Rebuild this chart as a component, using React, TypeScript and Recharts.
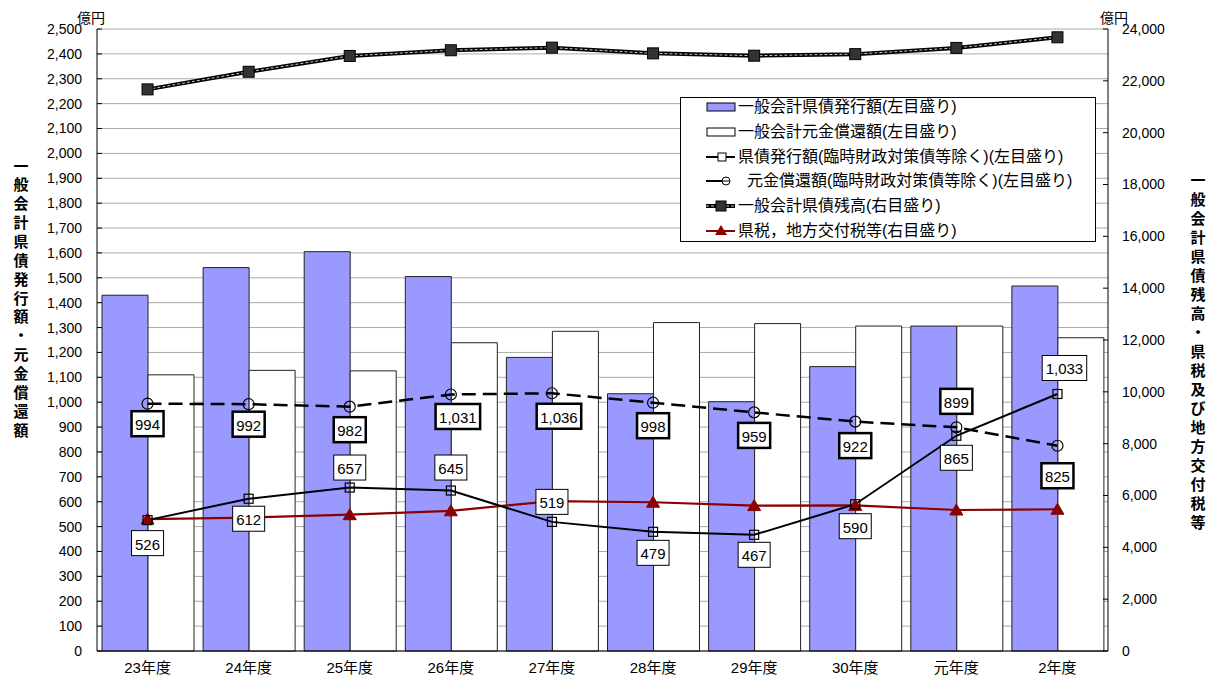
import React from 'react'
import { ComposedChart, Bar, Line, XAxis, YAxis, CartesianGrid, LabelList } from 'recharts'

const categories = ['23年度', '24年度', '25年度', '26年度', '27年度', '28年度', '29年度', '30年度', '元年度', '2年度']
const issuance = [1430, 1541, 1605, 1505, 1180, 1034, 1002, 1143, 1306, 1467]
const repayment = [1110, 1128, 1126, 1239, 1285, 1320, 1316, 1306, 1306, 1259]
const issuanceExcl = [526, 612, 657, 645, 519, 479, 467, 590, 865, 1033]
const repaymentExcl = [994, 992, 982, 1031, 1036, 998, 959, 922, 899, 825]
const balance = [21670, 22350, 22960, 23180, 23280, 23060, 22970, 23030, 23270, 23680]
const taxes = [5090, 5150, 5260, 5410, 5780, 5740, 5610, 5620, 5440, 5470]

const leftTicks = [0, 100, 200, 300, 400, 500, 600, 700, 800, 900, 1000, 1100, 1200, 1300, 1400, 1500, 1600, 1700, 1800, 1900, 2000, 2100, 2200, 2300, 2400, 2500]
const rightTicks = [0, 2000, 4000, 6000, 8000, 10000, 12000, 14000, 16000, 18000, 20000, 22000, 24000]

// label box offsets from the point (px, + is below)
const issuanceLabelDy = [23, 20, -20, -23, -20, 21, 20, 22, 22, -26]
const repaymentLabelDy = [20, 20, 23, 22, 23, 23, 23, 24, -26, 30]

const leftTitle = '一般会計県債発行額・元金償還額'
const rightTitle = '一般会計県債残高・県税及び地方交付税等'

const FONT = "'Liberation Sans', 'Noto Sans CJK JP', sans-serif"
const BLUE = '#9999FF'
const RED = '#8B0000'

const data = categories.map((name, i) => ({
  name,
  issuance: issuance[i],
  repayment: repayment[i],
  issuanceExcl: issuanceExcl[i],
  repaymentExcl: repaymentExcl[i],
  balance: balance[i],
  taxes: taxes[i],
}))

const fmt = (v: number) => v.toLocaleString('en-US')

const makeLabel = (offsets: number[], thick: boolean) => (props: any) => {
  const { x, y, value, index } = props
  if (x == null || y == null) return null
  const text = fmt(Number(value))
  const commas = (text.match(/,/g) || []).length
  const w = (text.length - commas) * 8.34 + commas * 4.17 + 7
  const dx = text.length > 3 ? 7 : 0
  const cx = x + dx
  const cy = y + offsets[index]
  return (
    <g key={`lbl-${index}`}>
      <rect x={cx - w / 2} y={cy - 12.5} width={w} height={25} fill="#fff" stroke="#000" strokeWidth={thick ? 2.5 : 1} />
      <text x={cx} y={cy + 1} textAnchor="middle" dominantBaseline="central" fontSize={15} fontFamily={FONT} fill="#000">
        {text}
      </text>
    </g>
  )
}

const squareDot = (p: any) => (
  <rect key={`sq-${p.index}`} x={p.cx - 4.5} y={p.cy - 4.5} width={9} height={9} fill="none" stroke="#000" strokeWidth={1.2} />
)
const circleDot = (p: any) => (
  <circle key={`ci-${p.index}`} cx={p.cx} cy={p.cy} r={5.5} fill="none" stroke="#000" strokeWidth={1.2} />
)
const filledSquareDot = (p: any) => (
  <rect key={`fs-${p.index}`} x={p.cx - 5.5} y={p.cy - 5.5} width={11} height={11} fill="#333" stroke="#000" strokeWidth={1} />
)
const triangleDot = (p: any) => (
  <path key={`tr-${p.index}`} d={`M${p.cx},${p.cy - 6} L${p.cx + 6.5},${p.cy + 5} L${p.cx - 6.5},${p.cy + 5} Z`} fill={RED} stroke={RED} />
)

const legendItems = [
  {
    label: '一般会計県債発行額(左目盛り)',
    icon: <rect x={1} y={3} width={28} height={8} fill={BLUE} stroke="#000" strokeWidth={1} />,
  },
  {
    label: '一般会計元金償還額(左目盛り)',
    icon: <rect x={1} y={3} width={28} height={8} fill="#fff" stroke="#000" strokeWidth={1} />,
  },
  {
    label: '県債発行額(臨時財政対策債等除く)(左目盛り)',
    icon: (
      <g>
        <line x1={0} y1={7} x2={29} y2={7} stroke="#000" strokeWidth={2} />
        <rect x={12} y={3} width={8} height={8} fill="#fff" stroke="#000" strokeWidth={1} />
      </g>
    ),
  },
  {
    label: '元金償還額(臨時財政対策債等除く)(左目盛り)',
    icon: (
      <g>
        <line x1={0} y1={7} x2={16} y2={7} stroke="#000" strokeWidth={2} />
        <circle cx={20} cy={7} r={4} fill="none" stroke="#000" strokeWidth={1} />
        <line x1={16} y1={7} x2={24} y2={7} stroke="#000" strokeWidth={1} />
      </g>
    ),
  },
  {
    label: '一般会計県債残高(右目盛り)',
    icon: (
      <g>
        <line x1={0} y1={7} x2={29} y2={7} stroke="#000" strokeWidth={4} />
        <line x1={0} y1={7} x2={29} y2={7} stroke="#ccc" strokeWidth={1} strokeDasharray="3 2" />
        <rect x={10} y={2} width={10} height={10} fill="#333" stroke="#000" />
      </g>
    ),
  },
  {
    label: '県税，地方交付税等(右目盛り)',
    icon: (
      <g>
        <line x1={0} y1={7} x2={29} y2={7} stroke={RED} strokeWidth={2} />
        <path d="M15,1 L21,11 L9,11 Z" fill={RED} />
      </g>
    ),
  },
]

const LegendBox = () => (
  <div
    style={{
      position: 'absolute',
      left: 680,
      top: 97,
      width: 416,
      height: 145,
      border: '1px solid #000',
      background: '#fff',
      boxSizing: 'border-box',
      fontFamily: FONT,
      fontSize: 16,
      color: '#000',
    }}
  >
    {legendItems.map((item, i) => (
      <div
        key={i}
        style={{ position: 'absolute', left: 25, top: i * 24.8 - 3, height: 24, display: 'flex', alignItems: 'center', whiteSpace: 'nowrap' }}
      >
        <svg width={30} height={14} style={{ display: 'block' }}>
          {item.icon}
        </svg>
        <span style={{ marginLeft: i === 3 ? 11 : 2, lineHeight: '24px' }}>{item.label}</span>
      </div>
    ))}
  </div>
)

const VerticalTitle = ({ text, left, top, step }: { text: string; left: number; top: number; step: number }) => (
  <div style={{ position: 'absolute', left, top, width: 20, fontFamily: "'Noto Sans CJK JP', sans-serif", fontWeight: 700, fontSize: 15, color: '#000' }}>
    {text.split('').map((ch, i) => (
      <div key={i} style={{ height: step, lineHeight: `${step}px`, textAlign: 'center' }}>
        {ch}
      </div>
    ))}
  </div>
)

export default function App() {
  return (
    <div style={{ position: 'absolute', left: 0, top: 0, width: 1215, height: 677, background: '#fff' }}>
      <ComposedChart
        width={1215}
        height={677}
        data={data}
        margin={{ top: 29, right: 0, bottom: 0, left: 0 }}
        barGap={0}
      >
        <CartesianGrid yAxisId="left" vertical={false} stroke="#aaaaaa" />
        <XAxis
          dataKey="name"
          height={26}
          tickLine={false}
          axisLine={{ stroke: '#000' }}
          tick={{ fontSize: 15, fill: '#000', fontFamily: FONT }}
          tickMargin={5}
        />
        <YAxis
          yAxisId="left"
          width={97}
          domain={[0, 2500]}
          ticks={leftTicks}
          interval={0}
          tickFormatter={fmt}
          tickLine={{ stroke: '#000' }}
          tickSize={-5}
          tickMargin={20}
          axisLine={{ stroke: '#000' }}
          tick={{ fontSize: 14, fill: '#000', fontFamily: FONT }}
        />
        <YAxis
          yAxisId="right"
          orientation="right"
          width={107}
          domain={[0, 24000]}
          ticks={rightTicks}
          interval={0}
          tickFormatter={fmt}
          tickLine={{ stroke: '#000' }}
          tickSize={-5}
          tickMargin={19}
          axisLine={{ stroke: '#000' }}
          tick={{ fontSize: 14, fill: '#000', fontFamily: FONT }}
        />
        <Bar yAxisId="left" dataKey="issuance" barSize={46} fill={BLUE} stroke="#222" strokeWidth={1} isAnimationActive={false} />
        <Bar yAxisId="left" dataKey="repayment" barSize={46} fill="#fff" stroke="#222" strokeWidth={1} isAnimationActive={false} />
        <Line yAxisId="right" dataKey="balance" stroke="#000" strokeWidth={4} dot={false} activeDot={false} isAnimationActive={false} legendType="none" />
        <Line
          yAxisId="right"
          dataKey="balance"
          stroke="#cccccc"
          strokeWidth={1}
          strokeDasharray="3 2"
          dot={filledSquareDot}
          activeDot={false}
          isAnimationActive={false}
        />
        <Line yAxisId="right" dataKey="taxes" stroke={RED} strokeWidth={2.2} dot={triangleDot} activeDot={false} isAnimationActive={false} />
        <Line yAxisId="left" dataKey="issuanceExcl" stroke="#000" strokeWidth={2} dot={squareDot} activeDot={false} isAnimationActive={false}>
          <LabelList dataKey="issuanceExcl" content={makeLabel(issuanceLabelDy, false)} />
        </Line>
        <Line
          yAxisId="left"
          dataKey="repaymentExcl"
          stroke="#000"
          strokeWidth={2.5}
          strokeDasharray="14 7"
          dot={circleDot}
          activeDot={false}
          isAnimationActive={false}
        >
          <LabelList dataKey="repaymentExcl" content={makeLabel(repaymentLabelDy, true)} />
        </Line>
      </ComposedChart>
      <LegendBox />
      <div style={{ position: 'absolute', left: 77, top: 7, fontSize: 14, fontFamily: "'Noto Sans CJK JP', sans-serif", lineHeight: '20px' }}>億円</div>
      <div style={{ position: 'absolute', left: 1100, top: 7, fontSize: 14, fontFamily: "'Noto Sans CJK JP', sans-serif", lineHeight: '20px' }}>億円</div>
      <VerticalTitle text={leftTitle} left={11} top={156.6} step={18.86} />
      <VerticalTitle text={rightTitle} left={1188} top={170.2} step={19} />
    </div>
  )
}
